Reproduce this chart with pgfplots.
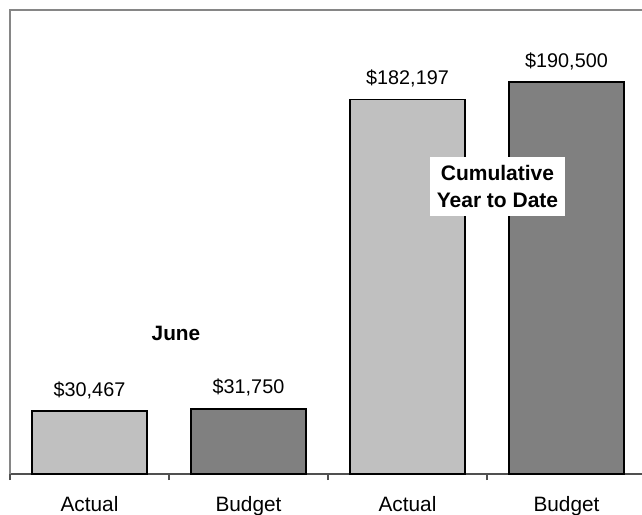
\documentclass[border=0pt]{standalone}
\usepackage{pgfplots}
\pgfplotsset{compat=1.18}
\usepackage{fontspec}
\setmainfont{Liberation Sans}
\definecolor{actual}{HTML}{C0C0C0}
\definecolor{budget}{HTML}{808080}
\definecolor{framegray}{HTML}{868686}
\definecolor{axisgray}{HTML}{505050}
\begin{document}
\begin{tikzpicture}
\useasboundingbox (-5pt,-20pt) rectangle (316pt,237pt);
\begin{axis}[
  at={(0,0)}, anchor=south west,
  scale only axis, width=318pt, height=232pt,
  xmin=-0.5, xmax=3.5, ymin=0, ymax=225700,
  axis x line=bottom, axis y line=none,
  x axis line style={-, draw=axisgray, line width=1pt},
  clip=false,
  ybar, bar width=0.72, bar shift=0pt,
  xtick={0,1,2,3}, xticklabels={Actual,Budget,Actual,Budget},
  minor xtick={-0.5,0.5,1.5,2.5,3.5},
  major tick length=0pt, minor tick length=3pt, tick align=outside,
  every tick/.style={axisgray, line width=0.8pt},
  xticklabel style={font=\fontsize{10.4}{12}\selectfont, anchor=base, yshift=-18.5pt},
  ytick=\empty,
  /pgf/number format/fixed,
  /pgf/number format/precision=0,
  /pgf/number format/1000 sep={,},
  /pgf/number format/assume math mode=true,
  nodes near coords={\$\pgfmathprintnumber{\pgfplotspointmeta}},
  every node near coord/.append style={font=\fontsize{9.9}{12}\selectfont, anchor=base, yshift=7.5pt, text=black},
]
\addplot[fill=actual, draw=black, line width=0.9pt] coordinates {(0,30467) (2,182197)};
\addplot[fill=budget, draw=black, line width=0.9pt] coordinates {(1,31750) (3,190500)};
\draw[framegray, line width=0.8pt] (rel axis cs:0,0) -- (rel axis cs:0,1) -- (rel axis cs:1,1) -- (rel axis cs:1,0);
\node[font=\bfseries\fontsize{10.4}{12}\selectfont] at (axis cs:0.544,68590) {June};
\node[fill=white, align=center, inner xsep=3.5pt, inner ysep=4pt, font=\bfseries\fontsize{10.5}{13.5}\selectfont] at (axis cs:2.566,139850) {Cumulative\\Year to Date};
\end{axis}
\end{tikzpicture}
\end{document}
